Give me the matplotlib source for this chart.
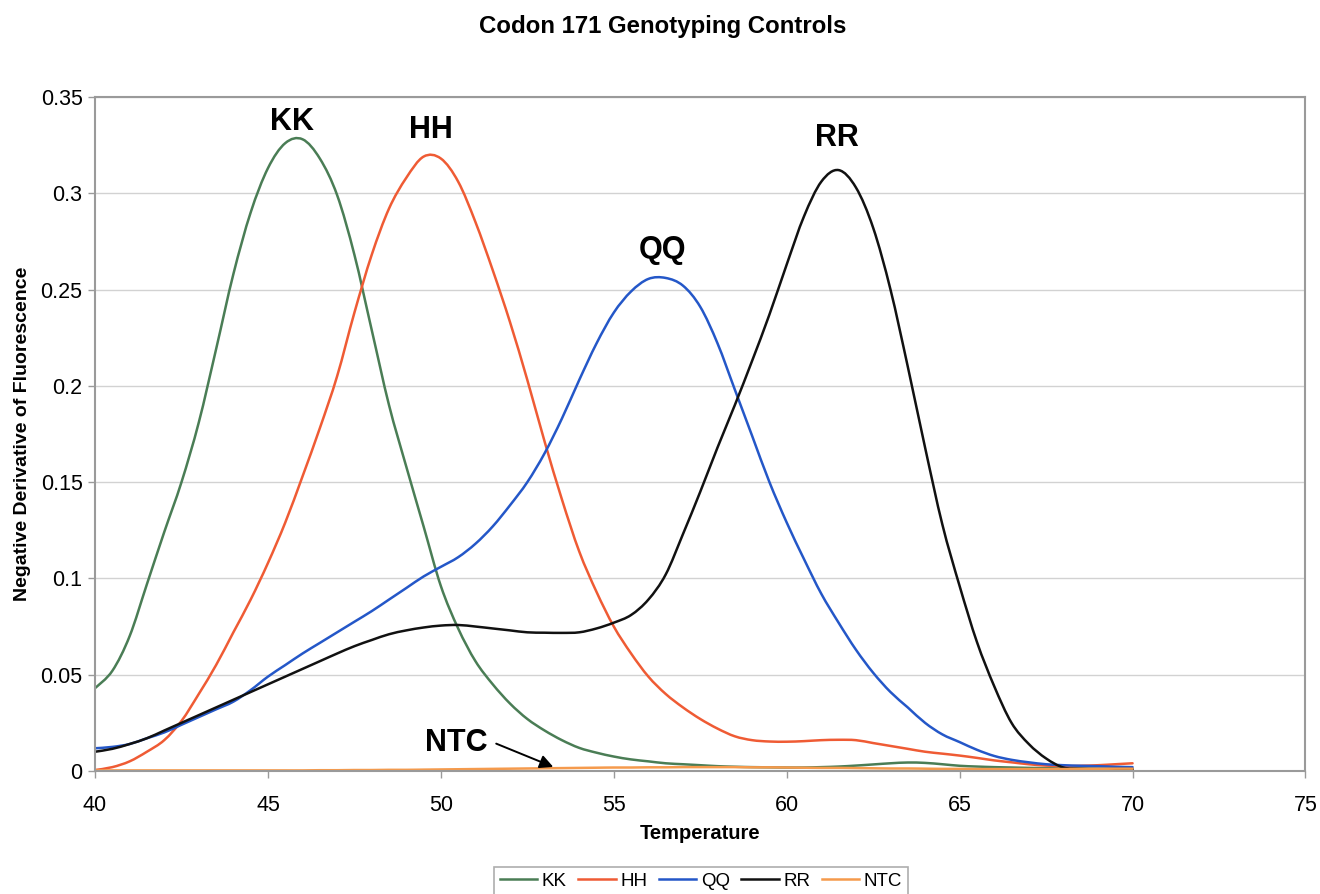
import numpy as np
import matplotlib
matplotlib.use("Agg")
import matplotlib.pyplot as plt
from matplotlib.path import Path
from matplotlib.patches import PathPatch
from matplotlib.lines import Line2D
from matplotlib.ticker import FuncFormatter, MultipleLocator

plt.rcParams['font.family'] = ['Liberation Sans', 'DejaVu Sans']

# temperature grid, every 0.5 degree from 40 to 70
temperature = np.arange(40, 70.01, 0.5)

kk = [0.043, 0.052, 0.070, 0.097, 0.124, 0.150, 0.181, 0.219, 0.258, 0.290,
      0.313, 0.326, 0.328, 0.318, 0.299, 0.268, 0.229, 0.190, 0.158, 0.127,
      0.096, 0.074, 0.057, 0.045, 0.035, 0.027, 0.021, 0.016, 0.012, 0.0095,
      0.0075, 0.006, 0.005, 0.004, 0.0035, 0.003, 0.0025, 0.0022, 0.002, 0.0019,
      0.0018, 0.0018, 0.002, 0.0023, 0.0028, 0.0034, 0.004, 0.0044, 0.0042, 0.0035,
      0.0027, 0.0023, 0.002, 0.0018, 0.0016, 0.0015, 0.0013, 0.0012, 0.0011, 0.001,
      0.001]

hh = [0.0005, 0.002, 0.005, 0.010, 0.016, 0.026, 0.040, 0.055, 0.072, 0.089,
      0.108, 0.129, 0.153, 0.178, 0.205, 0.238, 0.268, 0.292, 0.308, 0.319,
      0.318, 0.306, 0.285, 0.260, 0.233, 0.203, 0.171, 0.141, 0.114, 0.093,
      0.075, 0.061, 0.049, 0.040, 0.033, 0.027, 0.022, 0.018, 0.016, 0.0153,
      0.0152, 0.0155, 0.016, 0.0162, 0.016, 0.0145, 0.013, 0.0115, 0.010, 0.009,
      0.008, 0.0068, 0.0055, 0.0045, 0.0035, 0.0028, 0.0025, 0.0027, 0.003, 0.0035,
      0.004]

qq = [0.0118, 0.0125, 0.014, 0.017, 0.020, 0.024, 0.028, 0.032, 0.036, 0.042,
      0.049, 0.055, 0.061, 0.0665, 0.072, 0.0775, 0.083, 0.089, 0.095, 0.101,
      0.106, 0.111, 0.118, 0.127, 0.138, 0.150, 0.165, 0.183, 0.203, 0.222,
      0.238, 0.249, 0.2555, 0.256, 0.252, 0.241, 0.222, 0.198, 0.174, 0.150,
      0.129, 0.110, 0.092, 0.077, 0.063, 0.051, 0.041, 0.033, 0.025, 0.019,
      0.015, 0.011, 0.0078, 0.0058, 0.0045, 0.0035, 0.003, 0.0027, 0.0025, 0.0022,
      0.002]

rr = [0.010, 0.0115, 0.014, 0.017, 0.021, 0.025, 0.029, 0.033, 0.037, 0.041,
      0.045, 0.049, 0.053, 0.057, 0.061, 0.0648, 0.068, 0.071, 0.073, 0.0745,
      0.0755, 0.0758, 0.075, 0.074, 0.073, 0.072, 0.0718, 0.0717, 0.072, 0.074,
      0.077, 0.081, 0.089, 0.102, 0.123, 0.145, 0.168, 0.190, 0.213, 0.237,
      0.263, 0.288, 0.306, 0.312, 0.303, 0.282, 0.250, 0.210, 0.168, 0.128,
      0.096, 0.067, 0.044, 0.025, 0.014, 0.0065, 0.0018, 0.0012, 0.001, 0.001,
      0.001]

ntc = [0.0003, 0.0003, 0.0003, 0.0003, 0.0003, 0.0003, 0.0003, 0.0003, 0.0003, 0.0003,
       0.0003, 0.0003, 0.0003, 0.0004, 0.0004, 0.0005, 0.0005, 0.0006, 0.0006, 0.0007,
       0.0008, 0.0009, 0.001, 0.0011, 0.0012, 0.0013, 0.0014, 0.0015, 0.0016, 0.0017,
       0.0018, 0.0018, 0.0019, 0.0019, 0.002, 0.002, 0.002, 0.002, 0.0019, 0.0019,
       0.0018, 0.0017, 0.0016, 0.0016, 0.0015, 0.0014, 0.0013, 0.0013, 0.0012, 0.0011,
       0.0011, 0.001, 0.001, 0.001, 0.001, 0.001, 0.001, 0.0011, 0.0011, 0.0012,
       0.0012]

series = [("KK", kk, "#4a7d55"), ("HH", hh, "#ef5b34"), ("QQ", qq, "#2457c8"),
          ("RR", rr, "#111111"), ("NTC", ntc, "#f59a4c")]

# peak labels: text, x, y
labels = [("KK", 45.7, 0.337), ("HH", 49.7, 0.333), ("QQ", 56.4, 0.2705),
          ("RR", 61.45, 0.3287)]


def smooth_path(x, y):
    """Excel-like smoothed line: cubic bezier through every point."""
    p = np.column_stack([x, y])
    verts = [p[0]]
    codes = [Path.MOVETO]
    n = len(p)
    for i in range(n - 1):
        p0 = p[i - 1] if i > 0 else p[i]
        p3 = p[i + 2] if i + 2 < n else p[i + 1]
        c1 = p[i] + (p[i + 1] - p0) / 6.0
        c2 = p[i + 1] - (p3 - p[i]) / 6.0
        verts += [c1, c2, p[i + 1]]
        codes += [Path.CURVE4] * 3
    return Path(verts, codes)


fig = plt.figure(figsize=(13.2, 8.94), dpi=100)
ax = fig.add_axes([0.072, 0.1376, 0.917, 0.754])

handles = []
for name, vals, col in series:
    patch = PathPatch(smooth_path(temperature, vals), fill=False,
                      edgecolor=col, lw=1.8, capstyle='round', joinstyle='round')
    ax.add_patch(patch)
    handles.append(Line2D([], [], color=col, lw=1.8, label=name))

for txt, x, y in labels:
    ax.text(x, y, txt, ha='center', va='center', fontsize=22, fontweight='bold')

ax.text(50.45, 0.0145, "NTC", ha='center', va='center', fontsize=22, fontweight='bold')
ax.annotate("", xy=(53.25, 0.0021), xytext=(51.6, 0.0142),
            arrowprops=dict(arrowstyle='-|>', color='black', lw=1.4,
                            mutation_scale=20, shrinkA=0, shrinkB=0))

ax.set_xlim(40, 75)
ax.set_ylim(0, 0.35)
ax.xaxis.set_major_locator(MultipleLocator(5))
ax.yaxis.set_major_locator(MultipleLocator(0.05))
ax.yaxis.set_major_formatter(FuncFormatter(lambda v, p: "%g" % round(v, 2)))
ax.grid(axis='y', color='#d2d2d2', lw=1)
ax.set_axisbelow(True)
for s in ax.spines.values():
    s.set_color('#9a9a9a')
    s.set_linewidth(1.5)
ax.tick_params(colors='#9a9a9a', labelcolor='black', labelsize=15.5, length=5, width=1)
ax.tick_params(axis='x', pad=12)
ax.tick_params(axis='y', pad=4)

ax.set_xlabel("Temperature", fontsize=14.5, fontweight='bold', labelpad=6)
ax.set_ylabel("Negative Derivative of Fluorescence", fontsize=14, fontweight='bold', labelpad=7)
fig.text(0.502, 0.970, "Codon 171 Genotyping Controls", ha='center', va='center',
         fontsize=17.3, fontweight='bold')

leg = fig.legend(handles=handles, loc='upper center', bbox_to_anchor=(0.531, 0.030),
                 ncol=5, fontsize=13.5, frameon=True, fancybox=False, edgecolor='#9a9a9a',
                 handlelength=2.0, handletextpad=0.25, columnspacing=0.6,
                 borderpad=0.3, borderaxespad=0)
leg.get_frame().set_linewidth(1.2)

fig.savefig("out.png", dpi=100)
